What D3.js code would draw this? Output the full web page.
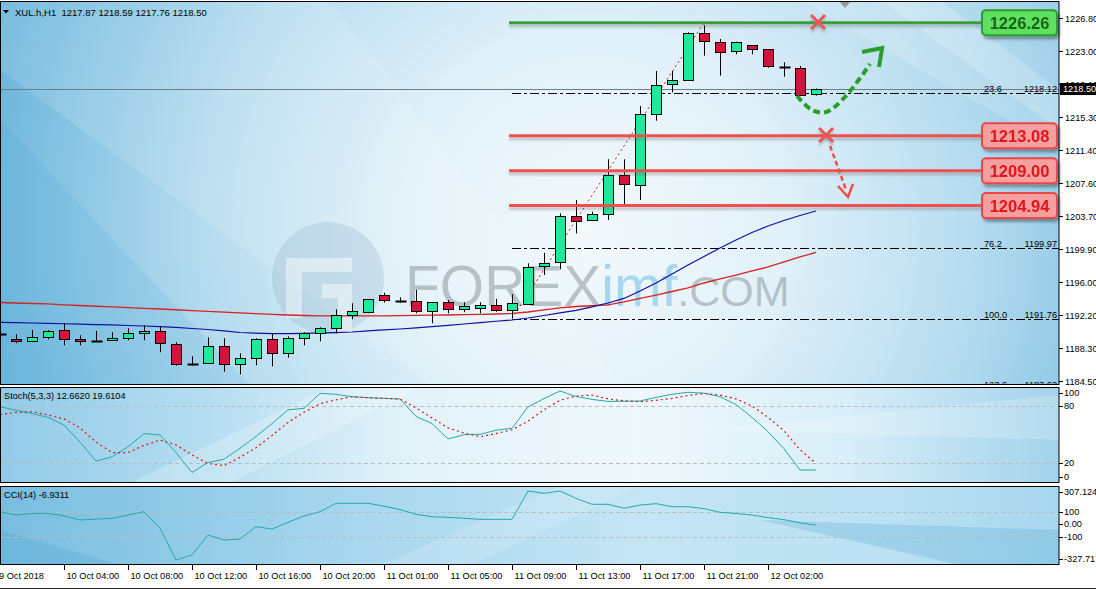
<!DOCTYPE html>
<html><head><meta charset="utf-8">
<script src="https://cdn.jsdelivr.net/npm/d3@7/dist/d3.min.js"></script>
<style>
body{margin:0;background:#fff;overflow:hidden}
svg{display:block}
text{font-family:"Liberation Sans",Arial,sans-serif}
</style>
</head><body>
<svg id="c" width="1096" height="589"></svg>
<script>
// ---------------- DATA ----------------
const symbol = "XUL.h,H1";
const barTimes = ["9 Oct 23:00","10 Oct 01:00","10 Oct 02:00","10 Oct 03:00","10 Oct 04:00","10 Oct 05:00","10 Oct 06:00","10 Oct 07:00","10 Oct 08:00","10 Oct 09:00",
"10 Oct 10:00","10 Oct 11:00","10 Oct 12:00","10 Oct 13:00","10 Oct 14:00","10 Oct 15:00","10 Oct 16:00","10 Oct 17:00","10 Oct 18:00","10 Oct 19:00",
"10 Oct 20:00","10 Oct 21:00","10 Oct 22:00","10 Oct 23:00","11 Oct 01:00","11 Oct 02:00","11 Oct 03:00","11 Oct 04:00","11 Oct 05:00","11 Oct 06:00",
"11 Oct 07:00","11 Oct 08:00","11 Oct 09:00","11 Oct 10:00","11 Oct 11:00","11 Oct 12:00","11 Oct 13:00","11 Oct 14:00","11 Oct 15:00","11 Oct 16:00",
"11 Oct 17:00","11 Oct 18:00","11 Oct 19:00","11 Oct 20:00","11 Oct 21:00","11 Oct 22:00","11 Oct 23:00","12 Oct 01:00","12 Oct 02:00","12 Oct 03:00",
"12 Oct 04:00","12 Oct 05:00"];
const openP  = [1189.95,1189.36,1189.13,1189.59,1190.41,1189.36,1189.20,1189.25,1189.43,1190.06,
1190.29,1188.78,1186.52,1186.56,1188.55,1186.45,1187.15,1189.36,1187.73,1189.48,
1190.01,1190.64,1192.16,1192.51,1194.49,1193.82,1193.82,1192.66,1193.67,1192.86,
1193.09,1193.32,1192.78,1193.56,1197.82,1198.37,1203.73,1203.26,1203.93,1208.51,
1207.31,1215.58,1219.07,1219.54,1225.02,1224.04,1222.95,1223.62,1223.15,1221.13,
1220.94,1217.87];
const highP  = [1190.10,1189.94,1190.45,1190.45,1191.23,1189.83,1190.33,1190.18,1190.64,1190.99,
1190.88,1189.01,1187.38,1189.59,1189.48,1187.73,1189.48,1190.06,1189.71,1190.18,
1190.76,1192.86,1193.56,1194.06,1194.79,1194.25,1195.11,1193.67,1193.94,1193.67,
1193.67,1194.06,1194.61,1198.22,1199.45,1204.04,1205.59,1204.23,1210.34,1210.34,
1216.55,1220.62,1220.62,1225.13,1225.98,1224.35,1224.04,1223.62,1223.15,1221.64,
1221.21,1218.59];
const lowP   = [1189.80,1188.90,1189.13,1189.36,1188.66,1188.66,1189.13,1189.25,1189.25,1189.25,
1187.85,1186.29,1186.29,1186.56,1185.59,1185.28,1186.33,1186.22,1187.22,1188.66,
1189.13,1190.06,1191.69,1192.51,1193.63,1193.63,1192.39,1191.23,1192.39,1192.51,
1192.39,1192.58,1191.81,1193.56,1196.85,1197.52,1201.71,1203.26,1203.26,1205.09,
1205.59,1214.83,1218.14,1219.54,1222.41,1220.08,1222.57,1222.57,1221.01,1219.96,
1217.83,1217.76];
const closeP = [1189.95,1189.13,1189.59,1190.33,1189.36,1189.13,1189.20,1189.48,1190.06,1190.33,
1188.90,1186.40,1186.52,1188.55,1186.45,1187.15,1189.36,1187.73,1189.48,1190.06,
1190.64,1192.16,1192.62,1194.06,1193.94,1193.82,1192.66,1193.67,1192.86,1193.24,
1193.39,1192.74,1193.56,1197.82,1198.22,1203.73,1203.11,1203.93,1208.51,1207.42,
1215.58,1218.96,1219.54,1225.02,1224.12,1222.87,1223.97,1223.15,1221.21,1221.13,
1217.83,1218.50];
const maBlue = [1191.34,1191.30,1191.26,1191.21,1191.17,1191.12,1191.07,1191.03,1190.97,1190.91,
1190.83,1190.74,1190.62,1190.50,1190.33,1190.15,1190.07,1190.03,1190.03,1190.05,
1190.10,1190.14,1190.21,1190.33,1190.45,1190.56,1190.70,1190.84,1190.99,1191.14,
1191.30,1191.46,1191.61,1191.84,1192.13,1192.43,1192.72,1193.13,1193.59,1194.12,
1194.99,1195.92,1196.97,1198.02,1199.01,1200.00,1200.93,1201.81,1202.56,1203.20,
1203.79,1204.31];
const maRed = [1193.65,1193.59,1193.53,1193.48,1193.38,1193.30,1193.21,1193.13,1193.06,1192.97,
1192.89,1192.80,1192.71,1192.61,1192.52,1192.43,1192.34,1192.26,1192.19,1192.13,
1192.10,1192.08,1192.08,1192.08,1192.10,1192.12,1192.15,1192.17,1192.19,1192.23,
1192.26,1192.31,1192.37,1192.54,1192.78,1193.01,1193.18,1193.27,1193.36,1193.71,
1194.12,1194.52,1194.93,1195.34,1195.92,1196.39,1196.85,1197.32,1197.79,1198.37,
1198.95,1199.48];
const stochMain = [79.3,75.5,72,68,60,42,22,26.6,37,51,
49.5,31,10,20.5,24,35.5,48,61.4,76,77.5,
93.3,92.3,89.8,88.8,88,87.4,69,61.5,45.3,49.8,
50.2,54.5,56.5,79,87.8,95.8,90,87,84.8,85,
85.3,89,92.3,94.4,93.5,89.8,81.5,68,53,35,
12.6,12.662];
const stochSignal = [71,73.2,74,70.5,66.5,57,42,31,31,38.5,
44.2,39,28.5,19.5,17.2,26,36,49,62.7,73.5,
82.5,86.5,89.8,88.7,88,87.4,78,67.5,57,51.5,
47.7,51,55,64,76,86,90.5,91.5,87.5,85.5,
84.5,86,88,91,93.3,91.5,87.5,80,68,54,
34,19.6104];
const cciValues = [100.7,74,87,87.6,67,34,41,47.5,74,100.7,
-33,-288,-247,-87,-127,-119,-20,-38.5,15,66,
100.7,168,168,168,145,118,80,60,55,48,
39.4,39.4,39.4,267,248,267,208,160,160,128,
154,165,141,141,125,96,86,74,53,37,
11,-6.9311];
const priceTicks = [1226.80,1223.00,1219.10,1215.30,1211.40,1207.60,1203.70,1199.90,1196.00,1192.20,1188.30,1184.50];
const stochTicks = [100,80,20,0];
const stochLevels = [80,20];
const cciTicks = [307.124,100,0,-100,-327.717];
const cciLevels = [100,-100];
const firstDateLabel = "9 Oct 2018";
const timeTickLabels = ["10 Oct 04:00","10 Oct 08:00","10 Oct 12:00","10 Oct 16:00","10 Oct 20:00","11 Oct 01:00","11 Oct 05:00","11 Oct 09:00","11 Oct 13:00","11 Oct 17:00","11 Oct 21:00","12 Oct 02:00"];
const resistanceLevels = [1226.26];
const supportLevels = [1213.08,1209.00,1204.94];
const fibHigh = 1226.26, fibLow = 1191.76;
const fibStartBar = "11 Oct 09:00", fibEndBar = "11 Oct 21:00";
const fibLevelPct = [23.6,76.2,100.0,123.6];
// annotation paths in (bar index, price)
const greenArrowPts = [[49.81,1217.71],[50.75,1216.08],[51.63,1215.85],[52.81,1217.60],[54.38,1221.44]];
const greenArrowHead = [[53.88,1222.84],[55.13,1223.30],[54.94,1221.09]];
const redArrowPts = [[51.88,1211.89],[52.88,1206.76]];
const redArrowHead = [[52.38,1207.22],[53.0,1205.94],[53.31,1207.46]];
const crossMarks = [[51.13,1226.33],[51.63,1213.17]];

// ---------------- LAYOUT ----------------
const plotR = 1059;
const mainT = 1, mainB = 385, stT = 387, stB = 483, cciT = 486, cciB = 565;
const n = barTimes.length, step = 16;
const FS = 9.2;
const svg = d3.select('#c');
const defs = svg.append('defs');

const x = d3.scalePoint().domain(barTimes).range([0, step*(n-1)]);
const xi = d3.scaleLinear().domain([0, n-1]).range([0, step*(n-1)]);
const y = d3.scaleLinear().domain([1184.50, 1226.80]).range([381, 18]);
const ys = d3.scaleLinear().domain([0,100]).range([stB-1, stT]);
const yc = d3.scaleLinear().domain([-327.717, 307.124]).range([cciB, cciT]);

// gradients
function lg(id, stops, x1,y1,x2,y2){
  const g = defs.append('linearGradient').attr('id',id).attr('gradientUnits','userSpaceOnUse')
    .attr('x1',x1).attr('y1',y1).attr('x2',x2).attr('y2',y2);
  stops.forEach(s=>g.append('stop').attr('offset',s[0]).attr('stop-color',s[1]));
}
const rg = defs.append('radialGradient').attr('id','gMain').attr('gradientUnits','userSpaceOnUse')
  .attr('cx',590).attr('cy',230).attr('r',640);
[[0,'#f3f9fc'],[0.3,'#e1f1f9'],[0.6,'#b6dcef'],[0.82,'#88c5e4'],[1,'#64b1da']].forEach(s=>rg.append('stop').attr('offset',s[0]).attr('stop-color',s[1]));
lg('gSt',[[0,'#92cae7'],[0.2,'#b6def1'],[0.38,'#e2f2f9'],[0.6,'#eff8fc'],[0.8,'#d8eef8'],[1,'#a3d3eb']],0,0,plotR,0);
lg('gCci',[[0,'#78bddf'],[0.3,'#a4d5ed'],[0.6,'#c4e5f4'],[0.85,'#bbe1f2'],[1,'#a7d6ed']],0,0,plotR,0);

// shadow filters (user space so zero-height lines still render)
const f1 = defs.append('filter').attr('id','shadow').attr('x','-20%').attr('y','-30%').attr('width','140%').attr('height','180%');
f1.append('feDropShadow').attr('dx',2).attr('dy',3).attr('stdDeviation',1.5).attr('flood-color','#000').attr('flood-opacity',0.35);
const f2 = defs.append('filter').attr('id','lshadow').attr('filterUnits','userSpaceOnUse')
  .attr('x',0).attr('y',0).attr('width',1096).attr('height',589);
f2.append('feDropShadow').attr('dx',0).attr('dy',3).attr('stdDeviation',1.2).attr('flood-color','#6a6a6a').attr('flood-opacity',0.35);

// clip paths
function clip(id, t, b){ defs.append('clipPath').attr('id',id).append('rect').attr('x',0).attr('y',t).attr('width',plotR).attr('height',b-t); }
clip('cMain', mainT, mainB); clip('cSt', stT, stB); clip('cCci', cciT, cciB);

// backgrounds
svg.append('rect').attr('x',0).attr('y',mainT).attr('width',plotR).attr('height',mainB-mainT).attr('fill','url(#gMain)');
svg.append('rect').attr('x',0).attr('y',stT).attr('width',plotR).attr('height',stB-stT).attr('fill','url(#gSt)');
svg.append('rect').attr('x',0).attr('y',cciT).attr('width',plotR).attr('height',cciB-cciT).attr('fill','url(#gCci)');

// streaks
const gm = svg.append('g').attr('clip-path','url(#cMain)');
gm.append('polygon').attr('points','0,0 330,0 620,385 430,385 0,70').attr('fill','#ffffff').attr('opacity',0.12);
gm.append('polygon').attr('points','0,120 250,385 0,385').attr('fill','#4aa6d6').attr('opacity',0.14);
gm.append('polygon').attr('points','800,0 1059,0 1059,150').attr('fill','#ffffff').attr('opacity',0.16);
gm.append('polygon').attr('points','880,0 940,0 1059,90 1059,130').attr('fill','#ffffff').attr('opacity',0.2);
const gsb = svg.append('g').attr('clip-path','url(#cSt)');
gsb.append('polygon').attr('points','130,483 330,387 420,387 230,483').attr('fill','#ffffff').attr('opacity',0.22);
gsb.append('polygon').attr('points','700,430 1059,395 1059,440').attr('fill','#ffffff').attr('opacity',0.2);
const gcb = svg.append('g').attr('clip-path','url(#cCci)');
gcb.append('polygon').attr('points','0,530 120,565 0,565').attr('fill','#4aa3d4').attr('opacity',0.25);
gcb.append('polygon').attr('points','760,520 1059,530 1059,565 960,565').attr('fill','#4aa3d4').attr('opacity',0.25);
gcb.append('polygon').attr('points','380,565 560,486 640,486 470,565').attr('fill','#ffffff').attr('opacity',0.15);

// watermark
const wm = gm.append('g');
wm.append('circle').attr('cx',328).attr('cy',278).attr('r',56).attr('fill','#8fb0c4').attr('opacity',0.28);
wm.append('path').attr('d','M286,258 H352 V272 H302 V318 H286 Z M322,284 H352 V334 H338 V298 H322 Z').attr('fill','#ffffff').attr('opacity',0.45);
const wt = wm.append('text').attr('x',405).attr('y',306).attr('font-family','Roboto, "Open Sans", sans-serif').attr('font-weight',300);
wt.append('tspan').attr('font-size',57).attr('fill','#8d979f').attr('fill-opacity',0.55).text('FOREX');
wt.append('tspan').attr('font-size',57).attr('fill','#9fd3ee').attr('fill-opacity',0.9).text('imf');
wt.append('tspan').attr('font-size',43).attr('fill','#8d979f').attr('fill-opacity',0.55).text('.COM');

// current price line
const lastClose = closeP[n-1];
gm.append('line').attr('x1',0).attr('x2',plotR).attr('y1',Math.round(y(lastClose))+0.5).attr('y2',Math.round(y(lastClose))+0.5)
  .attr('stroke','#6f7e8c').attr('stroke-width',1);

// fib levels
const fx0 = x(fibStartBar);
fibLevelPct.forEach(p=>{
  const v = fibHigh - p/100*(fibHigh-fibLow);
  const yy = Math.round(y(v))+0.5;
  gm.append('line').attr('x1',fx0).attr('x2',plotR).attr('y1',yy).attr('y2',yy)
    .attr('stroke','#000').attr('stroke-width',1).attr('stroke-dasharray','9,3,3,3');
  gm.append('text').attr('x',984).attr('y',yy-2).attr('font-size',FS).attr('fill','#000').text(p.toFixed(1));
  gm.append('text').attr('x',1057).attr('y',yy-2).attr('font-size',FS).attr('fill','#000').attr('text-anchor','end').text(v.toFixed(2));
});
// fib trend line
gm.append('line').attr('x1',fx0).attr('y1',y(fibLow)).attr('x2',x(fibEndBar)).attr('y2',y(fibHigh))
  .attr('stroke','#d01818').attr('stroke-width',1).attr('stroke-dasharray','2,3');

// MAs
const lineP = d3.line().x((d,i)=>xi(i)).y(d=>y(d));
gm.append('path').attr('d',lineP(maRed)).attr('fill','none').attr('stroke','#d62222').attr('stroke-width',1.3);
gm.append('path').attr('d',lineP(maBlue)).attr('fill','none').attr('stroke','#1010a0').attr('stroke-width',1.2);

// candles
const gc = gm.append('g');
barTimes.forEach((t,i)=>{
  const cx = Math.round(x(t))+0.5;
  const o=openP[i], c=closeP[i], h=highP[i], l=lowP[i];
  gc.append('line').attr('x1',cx).attr('x2',cx).attr('y1',y(h)).attr('y2',y(l)).attr('stroke','#000').attr('stroke-width',1);
  if (Math.abs(o-c) < 0.02) {
    const yy = Math.round(y(o))+0.5;
    gc.append('line').attr('x1',cx-5).attr('x2',cx+6).attr('y1',yy).attr('y2',yy).attr('stroke','#000').attr('stroke-width',2);
  } else {
    const top = y(Math.max(o,c)), bot = y(Math.min(o,c));
    gc.append('rect').attr('x',cx-5).attr('y',Math.round(top)+0.5).attr('width',10).attr('height',Math.max(1,Math.round(bot-top)))
      .attr('fill', c>o ? '#22e89e' : '#d4143c').attr('stroke','#000').attr('stroke-width',1);
  }
});

// horizontal S/R levels
const lx0 = x(fibStartBar)-3, lx1 = 982;
function level(v, stroke, fill, border, txtCol){
  const yy = y(v);
  gm.append('line').attr('x1',lx0).attr('x2',lx1).attr('y1',yy).attr('y2',yy).attr('stroke',stroke).attr('stroke-width',3).attr('filter','url(#lshadow)');
  const g = svg.append('g').attr('filter','url(#shadow)');
  g.append('rect').attr('x',982).attr('y',yy-12.5).attr('width',75).attr('height',25).attr('rx',4)
    .attr('fill',fill).attr('stroke',border).attr('stroke-width',2);
  g.append('text').attr('x',1019.5).attr('y',yy+6).attr('text-anchor','middle').attr('font-size',16.5).attr('font-weight','bold')
    .attr('fill',txtCol).text(v.toFixed(2));
}
resistanceLevels.forEach(v=>level(v,'#3a9e3a','#5fdf5f','#2e9d2e','#146414'));
supportLevels.forEach(v=>level(v,'#ef5050','#f5a0a0','#ec4646','#e0141a'));

// annotations
const pxy = d=>[xi(d[0]), y(d[1])];
const ga = svg.append('g');
ga.append('path').attr('d',d3.line().curve(d3.curveCatmullRom)(greenArrowPts.map(pxy))).attr('fill','none')
  .attr('stroke','#2a9d2a').attr('stroke-width',4).attr('stroke-dasharray','7,4');
ga.append('path').attr('d',d3.line()(greenArrowHead.map(pxy))).attr('fill','none').attr('stroke','#2a9d2a').attr('stroke-width',4).attr('stroke-linejoin','miter');
ga.append('path').attr('d',d3.line()(redArrowPts.map(pxy))).attr('fill','none').attr('stroke','#ee4d4d').attr('stroke-width',2.5).attr('stroke-dasharray','5,3');
ga.append('path').attr('d',d3.line()(redArrowHead.map(pxy))).attr('fill','none').attr('stroke','#ee4d4d').attr('stroke-width',2.5);
crossMarks.forEach(d=>{
  const [cx,cy] = pxy(d);
  ga.append('path').attr('d',`M${cx-7},${cy-7}L${cx+7},${cy+7}M${cx+7},${cy-7}L${cx-7},${cy+7}`)
    .attr('stroke','#f05252').attr('stroke-width',3).attr('filter','url(#lshadow)');
});
// chart shift marker
svg.append('polygon').attr('points','839,1 851,1 845,8').attr('fill','#9a9a9a');

// ---------- Stochastic ----------
const gs = svg.append('g').attr('clip-path','url(#cSt)');
stochLevels.forEach(v=>gs.append('line').attr('x1',0).attr('x2',plotR).attr('y1',Math.round(ys(v))+0.5).attr('y2',Math.round(ys(v))+0.5)
  .attr('stroke','#b4bcc4').attr('stroke-dasharray','4,3'));
const lineS = d3.line().x((d,i)=>xi(i)).y(d=>ys(d));
gs.append('path').attr('d',lineS(stochMain)).attr('fill','none').attr('stroke','#22aaa6').attr('stroke-width',1);
gs.append('path').attr('d',lineS(stochSignal)).attr('fill','none').attr('stroke','#d01818').attr('stroke-width',1.2).attr('stroke-dasharray','2,3');
svg.append('text').attr('x',4).attr('y',399).attr('font-size',FS).attr('fill','#000')
  .text(`Stoch(5,3,3) ${stochMain[n-1].toFixed(4)} ${stochSignal[n-1].toFixed(4)}`);

// ---------- CCI ----------
const gcc = svg.append('g').attr('clip-path','url(#cCci)');
cciLevels.forEach(v=>gcc.append('line').attr('x1',0).attr('x2',plotR).attr('y1',Math.round(yc(v))+0.5).attr('y2',Math.round(yc(v))+0.5)
  .attr('stroke','#b4bcc4').attr('stroke-dasharray','4,3'));
gcc.append('path').attr('d',d3.line().x((d,i)=>xi(i)).y(d=>yc(d))(cciValues)).attr('fill','none').attr('stroke','#22aaa6').attr('stroke-width',1);
svg.append('text').attr('x',4).attr('y',498).attr('font-size',FS).attr('fill','#000')
  .text(`CCI(14) ${cciValues[n-1].toFixed(4)}`);

// header
svg.append('polygon').attr('points','3,10 9,10 6,13.5').attr('fill','#000');
svg.append('text').attr('x',15).attr('y',15.5).attr('font-size',9.5).attr('fill','#000')
  .attr('xml:space','preserve')
  .text(`${symbol}  ${openP[n-1].toFixed(2)} ${highP[n-1].toFixed(2)} ${lowP[n-1].toFixed(2)} ${closeP[n-1].toFixed(2)}`);

// panel borders
[[mainT,mainB],[stT,stB],[cciT,cciB]].forEach(([t,b])=>{
  svg.append('rect').attr('x',0.5).attr('y',t+0.5).attr('width',plotR-0.5).attr('height',b-t-1)
    .attr('fill','none').attr('stroke','#000').attr('stroke-width',1);
});
svg.append('line').attr('x1',0).attr('x2',1096).attr('y1',588.5).attr('y2',588.5).attr('stroke','#222');

// price axis
const ax = svg.append('g');
priceTicks.forEach(v=>{
  const yy = Math.round(y(v))+0.5;
  ax.append('line').attr('x1',plotR).attr('x2',plotR+4).attr('y1',yy).attr('y2',yy).attr('stroke','#000');
  ax.append('text').attr('x',plotR+6).attr('y',yy).attr('dy','0.35em').attr('font-size',FS).attr('fill','#000').text(v.toFixed(2));
});
const cy0 = Math.round(y(lastClose));
ax.append('rect').attr('x',plotR+1).attr('y',cy0-6).attr('width',37).attr('height',12).attr('fill','#000');
ax.append('text').attr('x',plotR+4).attr('y',cy0).attr('dy','0.35em').attr('font-size',FS).attr('fill','#fff').text(lastClose.toFixed(2));

function sideLabels(ticks, scale, t, b, fmt){
  ticks.forEach(v=>{
    const yy = Math.max(t+6, Math.min(b-6, scale(v)));
    ax.append('line').attr('x1',plotR).attr('x2',plotR+4).attr('y1',Math.round(yy)+0.5).attr('y2',Math.round(yy)+0.5).attr('stroke','#000');
    ax.append('text').attr('x',plotR+5).attr('y',yy).attr('dy','0.35em').attr('font-size',FS).attr('fill','#000').text(fmt(v));
  });
}
sideLabels(stochTicks, ys, stT, stB, v=>String(v));
sideLabels(cciTicks, yc, cciT, cciB, v=> (v===0?'0.00': (Number.isInteger(v)?String(v):v.toFixed(3))));

// time axis
const tx = svg.append('g');
tx.append('text').attr('x',x(barTimes[0])-1).attr('y',579).attr('font-size',FS).attr('fill','#000').text(firstDateLabel);
timeTickLabels.forEach(lb=>{
  const xx = Math.round(x(lb))+0.5;
  tx.append('line').attr('x1',xx).attr('x2',xx).attr('y1',cciB).attr('y2',cciB+5).attr('stroke','#000');
  tx.append('text').attr('x',xx+2).attr('y',579).attr('font-size',FS).attr('fill','#000').text(lb);
});
</script>
</body></html>
